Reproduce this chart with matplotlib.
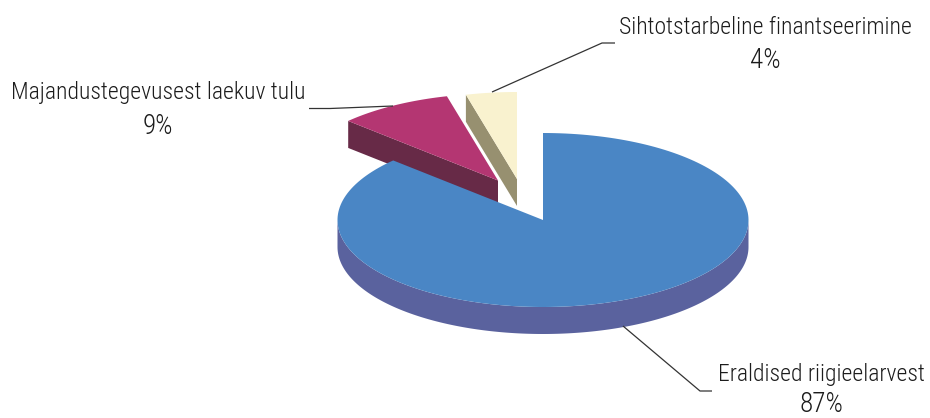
import numpy as np
import matplotlib
matplotlib.use("Agg")
import matplotlib.pyplot as plt
from matplotlib.patches import Polygon

labels = ["Eraldised riigieelarvest", "Majandustegevusest laekuv tulu", "Sihtotstarbeline finantseerimine"]
values = [87, 9, 4]

top_colors = ["#4A86C5", "#B43672", "#F9F2CF"]
side_colors = ["#5A629E", "#672A47", "#979070"]
offsets = [(0, 0), (-45, -39.5), (-26, -41)]
text_pos = [(821, 375, 405), (158, 93, 126), (765, 27, 60)]
leaders = [
    [(623, 326), (700, 391), (712, 391)],
    [(393, 106), (330, 108.5), (309, 108.5)],
    [(492, 92), (602, 43), (615, 43)],
]

CX, CY, RX, RY, DEPTH = 543, 220, 205.5, 87, 27
FONT = ["Roboto Condensed", "Archivo Narrow", "Liberation Sans"]
FS = 17
FS_PCT = 19.5

fig = plt.figure(figsize=(9.3, 4.18), dpi=100)
ax = fig.add_axes([0, 0, 1, 1])
ax.set_xlim(0, 930)
ax.set_ylim(418, 0)
ax.axis("off")


def arc(t0, t1, ox, oy, n=200):
    t = np.radians(np.linspace(t0, t1, n))
    return np.column_stack([CX + ox + RX * np.sin(t), CY + oy - RY * np.cos(t)])


total = sum(values)
bounds = np.cumsum([0] + values) / total * 360
order = [2, 1, 0]
for i in order:
    t0, t1 = bounds[i], bounds[i + 1]
    ox, oy = offsets[i]
    apex = np.array([CX + ox, CY + oy])
    outer = arc(t0, t1, ox, oy)
    if i > 0:
        p = outer[0]
        face = [p, apex, apex + [0, DEPTH], p + [0, DEPTH]]
        ax.add_patch(Polygon(face, closed=True, fc=side_colors[i], ec="none", zorder=2 + (2 - i)))
    a0, a1 = max(t0, 90), min(t1, 270)
    if a1 > a0:
        rim = arc(a0, a1, ox, oy)
        rim_poly = np.vstack([rim, (rim + [0, DEPTH])[::-1]])
        ax.add_patch(Polygon(rim_poly, closed=True, fc=side_colors[i], ec="none", zorder=2 + (2 - i)))
    ax.add_patch(Polygon(np.vstack([apex, outer]), closed=True, fc=top_colors[i], ec="none", zorder=2.5 + (2 - i)))

for name, val, (x, y1, y2), pts in zip(labels, values, text_pos, leaders):
    ax.text(x, y1, name, family=FONT, weight=300, fontsize=FS, ha="center", va="center", color="#1c1c1c")
    ax.text(x, y2, f"{val}%", family=FONT, weight=300, fontsize=FS_PCT, ha="center", va="center", color="#1c1c1c")
    xs, ys = zip(*pts)
    ax.plot(xs, ys, color="#333333", lw=0.9, zorder=6, solid_capstyle="butt")

fig.savefig("out.png", dpi=100, facecolor="white")
